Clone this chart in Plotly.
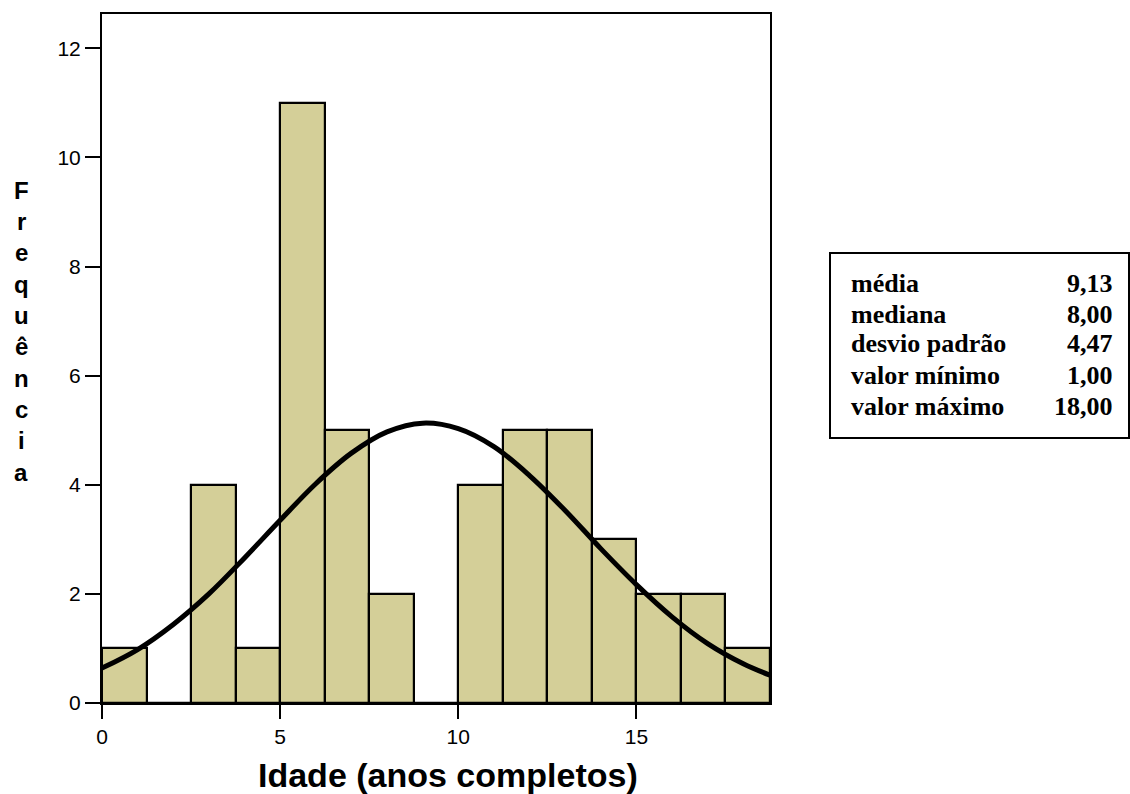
import plotly.graph_objects as go

# Histogram data: age bins (lower edge, width 1.25 years) and counts
bin_lower = [0.0, 1.25, 2.5, 3.75, 5.0, 6.25, 7.5, 8.75, 10.0, 11.25, 12.5, 13.75, 15.0, 16.25, 17.5]
bin_width = 1.25
counts = [1, 0, 4, 1, 11, 5, 2, 0, 4, 5, 5, 3, 2, 2, 1]

# Normal curve
curve_x = [0, 1, 2, 3, 4, 5, 6, 7, 8, 9, 10, 11, 12, 13, 14, 15, 16, 17, 18, 18.75]
curve_y = [0.64, 0.98, 1.44, 2.00, 2.66, 3.35, 4.02, 4.58, 4.97, 5.13, 5.03, 4.70,
           4.17, 3.53, 2.83, 2.17, 1.58, 1.09, 0.72, 0.51]

stat_labels = ["média", "mediana", "desvio padrão", "valor mínimo", "valor máximo"]
stat_values = ["9,13", "8,00", "4,47", "1,00", "18,00"]

x_ticks = [0, 5, 10, 15]
y_ticks = [0, 2, 4, 6, 8, 10, 12]

bin_centers = [b + bin_width / 2 for b in bin_lower]

fig = go.Figure()
fig.add_trace(go.Bar(
    x=bin_centers, y=counts, width=[bin_width] * len(counts),
    marker=dict(color="#D4CF98", line=dict(color="black", width=2.2)),
    hoverinfo="skip", showlegend=False,
))
fig.add_trace(go.Scatter(
    x=curve_x, y=curve_y, mode="lines",
    line=dict(color="black", width=5, shape="spline", smoothing=1.0),
    showlegend=False, hoverinfo="skip",
))

axis_font = dict(family="Liberation Sans, Arial", size=21, color="black")
fig.update_layout(
    width=1130, height=794,
    margin=dict(l=102, r=360, t=14, b=91),
    paper_bgcolor="white", plot_bgcolor="white",
    bargap=0,
    xaxis=dict(range=[0, 18.75], tickvals=x_ticks, ticks="outside", ticklen=14, tickwidth=2,
               tickcolor="black", showline=True, linecolor="black", linewidth=2, mirror=True,
               showgrid=False, zeroline=False, tickfont=axis_font),
    yaxis=dict(range=[0, 12.63], tickvals=y_ticks, ticks="outside", ticklen=15, tickwidth=2,
               tickcolor="black", showline=True, linecolor="black", linewidth=2, mirror=True,
               showgrid=False, zeroline=False, tickfont=axis_font),
)

annotations = []
# x-axis title
annotations.append(dict(text="<b>Idade (anos completos)</b>", xref="paper", yref="paper",
                        x=0.518, y=-0.1045, xanchor="center", yanchor="middle", showarrow=False,
                        font=dict(family="Liberation Sans, Arial", size=34, color="black")))
# vertical stacked y-axis title
ytitle = "Frequência"
y_top_px, y_bot_px = 190, 472
for i, ch in enumerate(ytitle):
    py = y_top_px + i * (y_bot_px - y_top_px) / (len(ytitle) - 1)
    annotations.append(dict(text=f"<b>{ch}</b>", xref="paper", yref="paper",
                            x=(21 - 102) / 668, y=(703 - py) / 689, xanchor="center", yanchor="middle",
                            showarrow=False,
                            font=dict(family="Liberation Sans, Arial", size=24, color="black")))
# stats box text
row_px = [283, 314, 344, 375, 406]
for lab, val, py in zip(stat_labels, stat_values, row_px):
    yp = (703 - py) / 689
    annotations.append(dict(text=f"<b>{lab}</b>", xref="paper", yref="paper",
                            x=(849 - 102) / 668, y=yp, xanchor="left", yanchor="middle", showarrow=False,
                            font=dict(family="Liberation Serif, Times New Roman", size=26, color="black")))
    annotations.append(dict(text=f"<b>{val}</b>", xref="paper", yref="paper",
                            x=(1115 - 102) / 668, y=yp, xanchor="right", yanchor="middle", showarrow=False,
                            font=dict(family="Liberation Serif, Times New Roman", size=26, color="black")))
fig.update_layout(annotations=annotations)

fig.add_shape(type="rect", xref="paper", yref="paper",
              x0=(830 - 102) / 668, x1=(1129 - 102) / 668,
              y0=(703 - 438) / 689, y1=(703 - 253) / 689,
              line=dict(color="black", width=2), fillcolor="rgba(0,0,0,0)")

fig.write_html("out.html")
